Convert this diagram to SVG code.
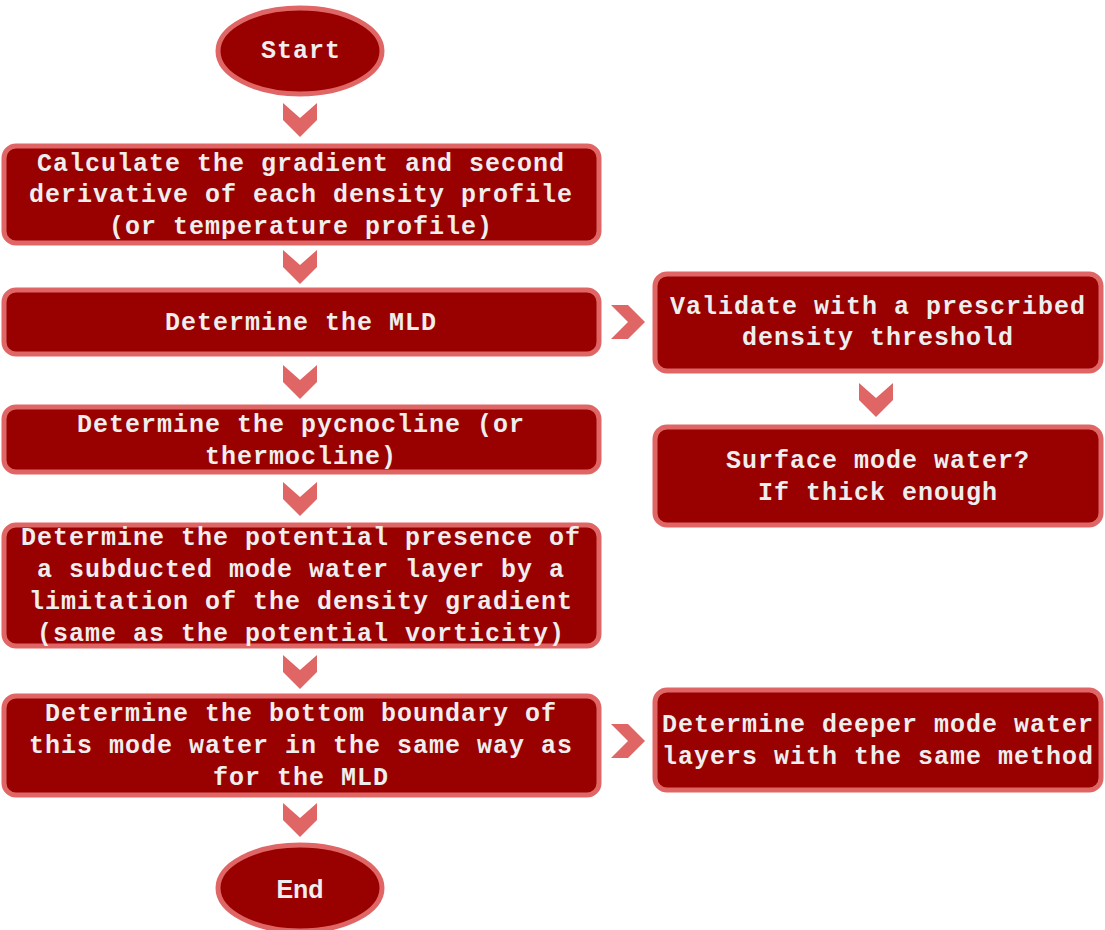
<svg xmlns="http://www.w3.org/2000/svg" width="1105" height="930" viewBox="0 0 1105 930">
<style>
.n{fill:#990000;stroke:#e06666;stroke-width:5}
.t{fill:#eeeeee;font-family:"Liberation Mono","Courier New",monospace;font-weight:bold;font-size:25px;letter-spacing:1px;text-anchor:middle}
.e{fill:#eeeeee;font-family:"Liberation Sans",Arial,sans-serif;font-weight:bold;font-size:25px;text-anchor:middle}
.a{fill:#e06666}
</style>
<defs>
<path id="dn" d="M-17,0 L0,15 L17,0 L17,17 L0,34 L-17,17 Z"/>
<path id="rt" d="M0,-17 L17,0 L0,17 L17,17 L34,0 L17,-17 Z"/>
</defs>
<g id="connectors" class="a">
<use href="#dn" x="300" y="103"/>
<use href="#dn" x="300" y="250"/>
<use href="#dn" x="300" y="365"/>
<use href="#dn" x="300" y="482"/>
<use href="#dn" x="300" y="655"/>
<use href="#dn" x="300" y="803"/>
<use href="#dn" x="876" y="383"/>
<path d="M611,305 L628,322 L611,339 L628,339 L645,322 L628,305 Z"/>
<path d="M611,724 L628,741 L611,758 L628,758 L645,741 L628,724 Z"/>
</g>
<g id="start">
<ellipse class="n" cx="300" cy="51" rx="82" ry="43"/>
<text class="t" x="301" y="58">Start</text>
</g>
<g id="calc">
<rect class="n" x="4" y="146" width="595" height="97" rx="12"/>
<text class="t" x="301" y="171">Calculate the gradient and second</text>
<text class="t" x="301" y="202">derivative of each density profile</text>
<text class="t" x="301" y="234">(or temperature profile)</text>
</g>
<g id="mld">
<rect class="n" x="4" y="290" width="595" height="64" rx="12"/>
<text class="t" x="301" y="330">Determine the MLD</text>
</g>
<g id="pycno">
<rect class="n" x="4" y="407" width="595" height="65" rx="12"/>
<text class="t" x="301" y="432">Determine the pycnocline (or</text>
<text class="t" x="301" y="464">thermocline)</text>
</g>
<g id="subducted">
<rect class="n" x="4" y="525" width="595" height="121" rx="12"/>
<text class="t" x="301" y="545">Determine the potential presence of</text>
<text class="t" x="301" y="577">a subducted mode water layer by a</text>
<text class="t" x="301" y="609">limitation of the density gradient</text>
<text class="t" x="301" y="641">(same as the potential vorticity)</text>
</g>
<g id="bottom">
<rect class="n" x="4" y="696" width="595" height="99" rx="12"/>
<text class="t" x="301" y="721">Determine the bottom boundary of</text>
<text class="t" x="301" y="753">this mode water in the same way as</text>
<text class="t" x="301" y="785">for the MLD</text>
</g>
<g id="end">
<ellipse class="n" cx="300" cy="888" rx="82" ry="43"/>
<text class="e" x="300" y="898">End</text>
</g>
<g id="validate">
<rect class="n" x="655" y="274" width="446" height="97" rx="12"/>
<text class="t" x="878" y="314">Validate with a prescribed</text>
<text class="t" x="878" y="345">density threshold</text>
</g>
<g id="surface">
<rect class="n" x="655" y="427" width="446" height="98" rx="12"/>
<text class="t" x="878" y="468">Surface mode water?</text>
<text class="t" x="878" y="500">If thick enough</text>
</g>
<g id="deeper">
<rect class="n" x="655" y="690" width="446" height="100" rx="12"/>
<text class="t" x="878" y="732">Determine deeper mode water</text>
<text class="t" x="878" y="764">layers with the same method</text>
</g>
</svg>
